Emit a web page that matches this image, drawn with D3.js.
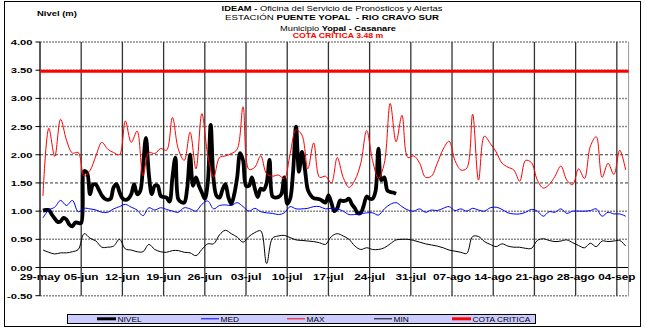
<!DOCTYPE html>
<html>
<head>
<meta charset="utf-8">
<script src="https://cdn.jsdelivr.net/npm/d3@7"></script>
<style>
  body { margin: 0; background: #fff; }
  svg { display: block; font-family: "Liberation Sans", Arial, sans-serif; }
  text { white-space: pre; }
</style>
</head>
<body>
<svg id="chart" width="645" height="328"></svg>
<script>
// Daily historical series (MAX / MED / MIN), one value per day from 29-may, plotted at midday
const maxSeries = [1.27,2.47,1.97,2.63,2.26,2.03,2.04,1.62,1.72,1.98,
  2.22,2.10,2.04,2.00,2.60,2.22,2.42,1.63,2.04,2.02,
  2.11,2.08,2.66,2.10,1.90,2.40,1.75,2.73,2.00,1.60,
  1.95,1.98,2.02,2.10,2.85,1.74,1.78,1.98,1.66,1.62,
  1.64,1.58,2.02,2.44,2.35,1.75,2.21,1.60,1.62,1.50,
  1.95,1.60,1.42,1.55,1.85,2.43,1.90,1.58,1.85,2.91,
  2.23,2.70,1.95,1.98,1.85,1.60,1.62,1.85,2.10,2.24,
  1.90,1.73,1.76,2.72,1.55,2.33,2.20,2.05,1.85,1.78,
  1.73,1.53,1.90,1.86,1.55,1.41,1.47,1.62,1.80,1.55,
  1.47,1.75,1.58,2.15,2.32,1.60,1.85,1.65,2.08,1.73];

const medSeries = [0.88,1.02,1.07,1.19,1.10,1.19,0.99,1.05,1.04,1.02,
  0.98,0.98,1.04,1.08,1.12,1.07,1.02,0.92,1.06,1.02,
  1.06,1.03,1.00,0.98,1.06,1.04,1.00,1.12,1.18,1.04,
  1.10,1.11,1.10,1.15,1.08,1.00,1.05,0.99,0.97,0.96,
  0.94,0.97,1.08,1.04,1.04,1.05,1.08,1.08,1.04,1.05,
  1.04,1.00,0.94,0.94,0.95,0.97,0.97,0.93,1.04,1.12,
  1.15,1.08,1.02,1.00,1.04,0.98,1.02,1.01,1.05,1.08,
  1.01,1.04,1.00,1.05,1.02,1.00,1.06,1.07,1.03,0.97,
  0.95,0.95,0.98,1.03,1.00,0.91,0.99,0.98,1.04,0.96,
  1.00,1.00,1.00,1.01,1.04,0.91,0.98,0.95,0.95,0.91];

const minSeries = [0.31,0.27,0.24,0.26,0.26,0.28,0.32,0.60,0.52,0.47,
  0.36,0.36,0.38,0.50,0.33,0.31,0.28,0.28,0.41,0.32,
  0.28,0.27,0.30,0.30,0.27,0.26,0.21,0.32,0.42,0.42,
  0.58,0.66,0.60,0.54,0.45,0.55,0.62,0.65,0.07,0.52,
  0.56,0.57,0.53,0.49,0.48,0.47,0.46,0.44,0.41,0.55,
  0.60,0.56,0.50,0.38,0.32,0.35,0.32,0.32,0.35,0.42,
  0.49,0.50,0.50,0.48,0.45,0.42,0.40,0.38,0.35,0.31,
  0.29,0.27,0.25,0.55,0.55,0.46,0.41,0.37,0.42,0.38,
  0.36,0.36,0.34,0.34,0.48,0.51,0.48,0.46,0.47,0.49,
  0.44,0.39,0.35,0.43,0.37,0.47,0.46,0.47,0.48,0.38];

// Observed level, two readings per day from 29-may 12:00
const nivelSeries = [1.01,1.02,1.02,0.94,0.87,0.81,0.82,0.88,0.85,0.76,
  0.73,0.80,0.79,0.79,1.71,1.68,1.30,1.47,1.47,1.38,
  1.28,1.22,1.20,1.22,1.42,1.48,1.34,1.23,1.20,1.22,
  1.30,1.48,1.30,1.35,1.80,2.30,1.65,1.30,1.45,1.45,
  1.27,1.25,1.24,1.17,1.60,1.95,1.21,1.16,1.15,1.40,
  2.00,1.45,1.60,1.45,1.33,1.22,1.50,2.53,1.55,1.27,
  1.24,1.38,1.48,1.25,1.13,1.30,1.60,2.03,1.90,1.45,
  1.45,1.60,1.40,1.25,1.40,1.38,1.50,1.91,1.26,1.24,
  1.25,1.30,1.60,1.13,1.22,1.70,2.50,1.70,2.05,1.75,
  1.38,1.28,1.23,1.22,1.21,1.18,1.15,1.28,1.15,1.00,
  1.05,1.19,1.18,1.19,1.22,1.12,1.05,0.96,0.97,1.10,
  1.26,1.22,1.22,1.35,2.11,1.55,1.60,1.37,1.34,1.33,
  1.31];

const cotaCritica = 3.48;

const xTickLabels = ["29-may","05-jun","12-jun","19-jun","26-jun","03-jul","10-jul",
  "17-jul","24-jul","31-jul","07-ago","14-ago","21-ago","28-ago","04-sep"];
const yTicks = [-0.5, 0, 0.5, 1, 1.5, 2, 2.5, 3, 3.5, 4];

const legendItems = [
  { name: "NIVEL", color: "#000", width: 3 },
  { name: "MED", color: "#0000ff", width: 1 },
  { name: "MAX", color: "#ff0000", width: 1 },
  { name: "MIN", color: "#000", width: 1 },
  { name: "COTA CRITICA", color: "#ff0000", width: 3 }
];

const DAY = 864e5;
const t0 = Date.UTC(2020, 4, 29);

const svg = d3.select("#chart");

const x = d3.scaleUtc()
  .domain([new Date(t0), new Date(t0 + 100 * DAY)])
  .range([40, 628.6]);
const y = d3.scaleLinear().domain([-0.5, 4]).range([295.7, 42]);

// text drawn with a horizontal stretch factor sx
function stretchText(parent, px, py, anchor, size, sx, parts, fill) {
  const t = parent.append("text")
    .attr("transform", `translate(${px},${py}) scale(${sx},1)`)
    .attr("text-anchor", anchor)
    .attr("font-size", size)
    .attr("fill", fill || "#000");
  parts.forEach(([s, b]) => t.append("tspan").attr("font-weight", b ? "bold" : "normal").text(s));
  return t;
}

// outer frame
svg.append("rect").attr("x", 4.5).attr("y", 1.5).attr("width", 636).attr("height", 325)
  .attr("fill", "#fff").attr("stroke", "#000").attr("stroke-width", 1);

// titles
const tc = 332;
stretchText(svg, 37, 16, "start", 8, 1.18, [["Nivel (m)", true]]);
stretchText(svg, tc, 10.5, "middle", 7.6, 1.23, [["IDEAM - ", true], ["Oficina del Servicio de Pronósticos y Alertas", false]]);
stretchText(svg, tc, 20, "middle", 8, 1.21, [["ESTACIÓN ", false], ["PUENTE YOPAL  - RIO CRAVO SUR", true]]);
stretchText(svg, tc + 6, 30.5, "middle", 7.7, 1.2, [["Municipio ", false], ["Yopal - Casanare", true]]);
stretchText(svg, tc + 6, 38, "middle", 6.7, 1.3, [["COTA CRÍTICA " + cotaCritica.toFixed(2) + " m", true]], "#ff0000");

const plot = svg.append("g");
const xEnd = x.range()[1];

// horizontal grid
yTicks.forEach(v => {
  const line = plot.append("line")
    .attr("x1", 40).attr("x2", xEnd).attr("y1", y(v)).attr("y2", y(v));
  if (v === 0) {
    line.attr("stroke", "#000").attr("stroke-width", 1);
  } else if (v === 1.5 || v === 2) {
    line.attr("stroke", "#000").attr("stroke-width", 0.8).attr("stroke-dasharray", "3,2");
  } else {
    line.attr("stroke", "#8c8c8c").attr("stroke-width", 1.5).attr("stroke-dasharray", "2,1");
  }
});

// weekly vertical grid
const tickDates = xTickLabels.map((_, i) => new Date(t0 + i * 7 * DAY));
tickDates.slice(1).forEach(d => {
  plot.append("line").attr("x1", x(d)).attr("x2", x(d)).attr("y1", y(4)).attr("y2", y(-0.5))
    .attr("stroke", "#333").attr("stroke-width", 1.3);
});
plot.append("line").attr("x1", xEnd).attr("x2", xEnd).attr("y1", y(4)).attr("y2", y(-0.5))
  .attr("stroke", "#999").attr("stroke-width", 1);

// y axis
plot.append("line").attr("x1", 40).attr("x2", 40).attr("y1", y(4)).attr("y2", y(-0.5))
  .attr("stroke", "#000").attr("stroke-width", 1.3);
yTicks.forEach(v => {
  plot.append("line").attr("x1", 35.5).attr("x2", 40).attr("y1", y(v)).attr("y2", y(v))
    .attr("stroke", "#000").attr("stroke-width", 1);
  stretchText(svg, 32.5, y(v) + 3, "end", 8, 1.4, [[v.toFixed(2), true]]);
});

// x labels
tickDates.forEach((d, i) => {
  stretchText(svg, x(d), 280, "middle", 8.3, 1.42, [[xTickLabels[i], true]]);
});

// series
const curve = d3.curveCatmullRom.alpha(0.5);
const dailyLine = d3.line().curve(curve)
  .x((d, i) => x(new Date(t0 + (i + 0.5) * DAY)))
  .y(d => y(d));
const halfDayLine = d3.line().curve(curve)
  .x((d, i) => x(new Date(t0 + (i + 1) * DAY / 2)))
  .y(d => y(d));

plot.append("path").attr("d", halfDayLine(nivelSeries)).attr("fill", "none")
  .attr("stroke", "#000").attr("stroke-width", 3.8).attr("stroke-linejoin", "round");
plot.append("path").attr("d", dailyLine(medSeries)).attr("fill", "none")
  .attr("stroke", "#0000ff").attr("stroke-width", 1);
plot.append("path").attr("d", dailyLine(maxSeries)).attr("fill", "none")
  .attr("stroke", "#ff0000").attr("stroke-width", 1);
plot.append("path").attr("d", dailyLine(minSeries)).attr("fill", "none")
  .attr("stroke", "#000").attr("stroke-width", 1);
plot.append("line").attr("x1", 40).attr("x2", xEnd).attr("y1", y(cotaCritica)).attr("y2", y(cotaCritica))
  .attr("stroke", "#ff0000").attr("stroke-width", 3);

// legend
const lg = svg.append("g");
lg.append("rect").attr("x", 67.5).attr("y", 314.5).attr("width", 468).attr("height", 9)
  .attr("fill", "#ccccff").attr("stroke", "#000").attr("stroke-width", 1);
const legendX = [97, 201, 287, 374, 452];
legendItems.forEach((it, i) => {
  const lx = legendX[i];
  const len = it.width > 2 ? 19 : 18;
  lg.append("line").attr("x1", lx).attr("x2", lx + len).attr("y1", 318.8).attr("y2", 318.8)
    .attr("stroke", it.color).attr("stroke-width", it.width);
  stretchText(lg, lx + len + 1.5, 322, "start", 7.6, 1.1, [[it.name, false]]);
});
</script>
</body>
</html>
